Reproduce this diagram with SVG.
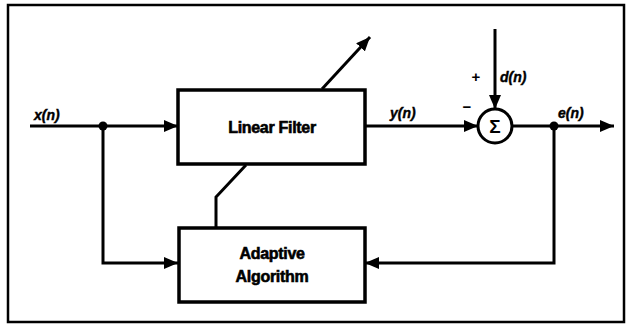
<svg xmlns="http://www.w3.org/2000/svg" width="627" height="327" viewBox="0 0 627 327">
  <style>
    .wire { fill: none; stroke: #000; stroke-width: 3; stroke-linejoin: miter; }
    .box { fill: #fff; stroke: #000; stroke-width: 3.5; }
    .title { font-family: "Liberation Sans", Arial, sans-serif; font-weight: bold; font-size: 16px; text-anchor: middle; fill: #000; stroke: #000; stroke-width: 0.6; letter-spacing: -0.3px; }
    .sig { font-family: "Liberation Sans", Arial, sans-serif; font-weight: bold; font-style: italic; font-size: 14px; fill: #000; stroke: #000; stroke-width: 0.4; }
    .sign { font-family: "Liberation Sans", Arial, sans-serif; font-weight: bold; font-size: 15px; fill: #000; text-anchor: middle; }
  </style>
  <defs>
    <marker id="arrow" viewBox="0 0 14 12" refX="14" refY="6" markerWidth="14" markerHeight="12" markerUnits="userSpaceOnUse" orient="auto">
      <path d="M0,0 L14,6 L0,12 Z" fill="#000"/>
    </marker>
  </defs>

  <rect width="627" height="327" fill="#fff"/>
  <!-- outer frame -->
  <rect x="8" y="5" width="616" height="317" fill="none" stroke="#000" stroke-width="2.5"/>

  <g id="connectors">
    <!-- input x(n) into the filter -->
    <path class="wire" d="M30,126 H178" marker-end="url(#arrow)"/>
    <!-- x(n) branch into adaptive algorithm -->
    <path class="wire" d="M103,126 V263 H178" marker-end="url(#arrow)"/>
    <!-- filter output y(n) into summer -->
    <path class="wire" d="M365,126 H478" marker-end="url(#arrow)"/>
    <!-- desired signal d(n) -->
    <path class="wire" d="M495,29 V109" marker-end="url(#arrow)"/>
    <!-- error output e(n) -->
    <path class="wire" d="M512,126 H614" marker-end="url(#arrow)"/>
    <!-- error fed back to adaptive algorithm -->
    <path class="wire" d="M554,126 V263 H365" marker-end="url(#arrow)"/>
    <!-- coefficient update path -->
    <path class="wire" d="M216,228 V197 L246,165"/>
    <path class="wire" d="M322,89 L370,37" marker-end="url(#arrow)"/>
    <!-- junction dots -->
    <circle cx="103" cy="126" r="4.5" fill="#000"/>
    <circle cx="554" cy="126" r="4.5" fill="#000"/>
  </g>

  <g id="linear-filter">
    <rect class="box" x="178" y="90" width="187" height="74"/>
    <text class="title" x="272" y="133">Linear Filter</text>
  </g>

  <g id="adaptive-algorithm">
    <rect class="box" x="179" y="228" width="186" height="74"/>
    <text class="title" x="272" y="259">Adaptive</text>
    <text class="title" x="272" y="282">Algorithm</text>
  </g>

  <g id="summer">
    <circle cx="495" cy="126" r="17" fill="#fff" stroke="#000" stroke-width="3"/>
    <text class="sign" x="495" y="133" style="font-size:19px">Σ</text>
    <text class="sign" x="476" y="82">+</text>
    <text class="sign" x="467" y="112">−</text>
  </g>

  <g id="labels">
    <text class="sig" x="34" y="120">x(n)</text>
    <text class="sig" x="390" y="118">y(n)</text>
    <text class="sig" x="500" y="82">d(n)</text>
    <text class="sig" x="558" y="118">e(n)</text>
  </g>
</svg>
